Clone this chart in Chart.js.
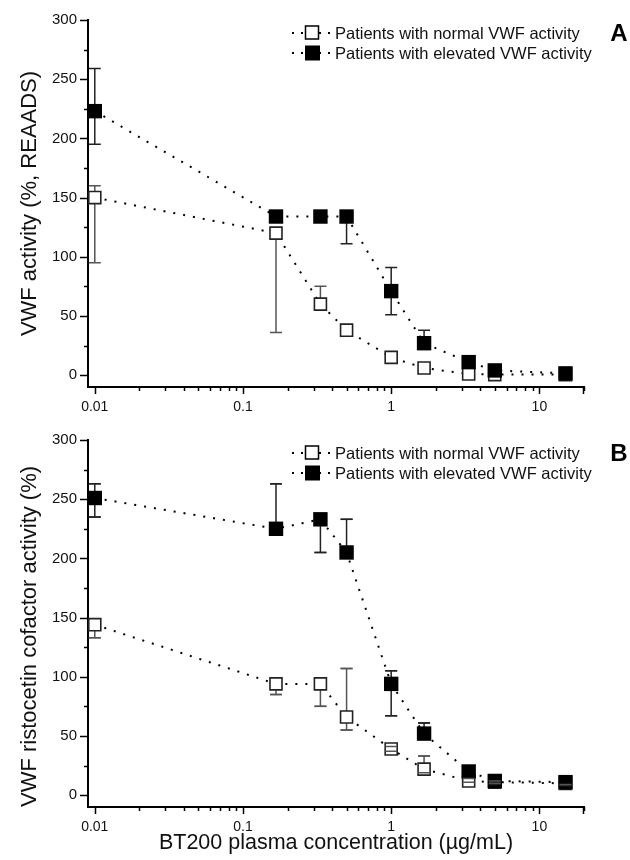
<!DOCTYPE html>
<html>
<head>
<meta charset="utf-8">
<script src="https://cdn.jsdelivr.net/npm/chart.js@4.4.1/dist/chart.umd.min.js"></script>
<style>
  body { margin: 0; background: #fff; }
  canvas { display: block; }
</style>
</head>
<body>
<canvas id="chartA" width="630" height="420"></canvas>
<canvas id="chartB" width="630" height="440"></canvas>
<script>
// BT200 concentration (µg/mL) for every measurement
const concentrations = [0.01, 0.167, 0.333, 0.5, 1, 1.667, 3.333, 5, 15];
const seriesNames = ['Patients with normal VWF activity', 'Patients with elevated VWF activity'];

// Panel A: VWF activity (%, REAADS)
const reaadsNormal = [150, 120, 60, 38, 15, 6, 1, 0.5, 0.5];
const reaadsNormalHi = [160, 120, 75, 40, 17, 8, 2, 1, 1];
const reaadsNormalLo = [95, 36, 55, 36, 13, 5, 0, 0, 0];
const reaadsElevated = [223, 134, 134, 134, 71, 27, 11, 4, 1.5];
const reaadsElevatedHi = [259, 134, 134, 134, 91, 38, 12, 5, 2];
const reaadsElevatedLo = [195, 134, 134, 111, 51, 27, 11, 4, 1.5];

// Panel B: VWF ristocetin cofactor activity (%)
const ristoNormal = [144, 94, 94, 66, 39, 22, 12, 11, 10];
const ristoNormalHi = [144, 94, 94, 107, 41, 33, 14, 12, 10];
const ristoNormalLo = [133, 85, 75, 55, 37, 19, 11, 10, 9];
const ristoElevated = [251, 225, 233, 205, 94, 52, 20, 12, 11];
const ristoElevatedHi = [263, 263, 233, 233, 105, 61, 20, 12, 11];
const ristoElevatedLo = [235, 225, 205, 205, 67, 52, 20, 9, 8];

const xTickLabels = [0.01, 0.1, 1, 10];
const yTickValues = [0, 50, 100, 150, 200, 250, 300];
const yMinorTicks = [25, 75, 125, 175, 225, 275];

const FONT = "'Liberation Sans', Arial, sans-serif";

function toPoints(vals) {
  return concentrations.map((x, i) => ({ x: x, y: vals[i] }));
}

// vertical error bars with caps, drawn under the markers
function drawErrorBars(chart, capsOnly) {
  const ctx = chart.ctx;
  const y = chart.scales.y;
  ctx.save();
  chart.data.datasets.forEach((ds, di) => {
    const meta = chart.getDatasetMeta(di);
    ctx.strokeStyle = ds.errColor;
    ctx.lineWidth = 1.5;
    meta.data.forEach((pt, i) => {
      const top = y.getPixelForValue(ds.errHi[i]);
      const bot = y.getPixelForValue(ds.errLo[i]);
      const x = pt.x;
      ctx.beginPath();
      if (!capsOnly) {
        ctx.moveTo(x, top); ctx.lineTo(x, bot);
      }
      if (Math.abs(top - pt.y) > 0.5 || !capsOnly) {
        ctx.moveTo(x - 6, top); ctx.lineTo(x + 6, top);
      }
      if (Math.abs(bot - pt.y) > 0.5 || !capsOnly) {
        ctx.moveTo(x - 6, bot); ctx.lineTo(x + 6, bot);
      }
      ctx.stroke();
    });
  });
  ctx.restore();
}

const errorBarPlugin = {
  id: 'errorBars',
  beforeDatasetsDraw(chart, args, opts) { drawErrorBars(chart, false); },
  afterDatasetsDraw(chart, args, opts) { if (opts.capsOnTop) drawErrorBars(chart, true); }
};

// outward tick marks: long ones at labelled values, short ones in between
const tickPlugin = {
  id: 'tickMarks',
  afterDraw(chart) {
    const ctx = chart.ctx;
    const xs = chart.scales.x, ys = chart.scales.y;
    const area = chart.chartArea;
    ctx.save();
    ctx.strokeStyle = '#000';
    ctx.lineWidth = 1.5;
    ctx.beginPath();
    yTickValues.forEach(v => {
      const py = Math.round(ys.getPixelForValue(v)) + 0.5;
      ctx.moveTo(area.left - 8, py); ctx.lineTo(area.left, py);
    });
    yMinorTicks.forEach(v => {
      const py = Math.round(ys.getPixelForValue(v)) + 0.5;
      ctx.moveTo(area.left - 4, py); ctx.lineTo(area.left, py);
    });
    xTickLabels.forEach(decade => {
      for (let m = 1; m <= 9; m++) {
        const v = decade * m;
        if (v < xs.min || v > xs.max) continue;
        const px = Math.round(xs.getPixelForValue(v)) + 0.5;
        ctx.moveTo(px, area.bottom);
        ctx.lineTo(px, area.bottom + (m === 1 ? 7 : 4));
      }
    });
    const pEnd = Math.round(xs.getPixelForValue(xs.max)) - 0.5;
    ctx.moveTo(pEnd, area.bottom); ctx.lineTo(pEnd, area.bottom + 7);
    ctx.stroke();
    ctx.restore();
  }
};

// legend inside the plot, top right, plus the panel letter
const panelLegendPlugin = {
  id: 'panelLegend',
  afterDraw(chart, args, opts) {
    const ctx = chart.ctx;
    ctx.save();
    opts.rows.forEach((row, i) => {
      const ly = opts.y + i * 20;
      ctx.strokeStyle = '#000';
      ctx.lineWidth = 2;
      ctx.setLineDash([2, 7]);
      ctx.beginPath();
      ctx.moveTo(292, ly); ctx.lineTo(334, ly);
      ctx.stroke();
      ctx.setLineDash([]);
      ctx.lineWidth = 1.5;
      if (row.filled) {
        ctx.fillStyle = '#000';
        ctx.fillRect(305, ly - 7.5, 15, 15);
      } else {
        ctx.fillStyle = '#fff';
        ctx.fillRect(305.5, ly - 7, 13, 13);
        ctx.strokeRect(305.5, ly - 7, 13, 13);
      }
      ctx.fillStyle = '#111';
      ctx.font = '16.5px ' + FONT;
      ctx.textAlign = 'left';
      ctx.textBaseline = 'middle';
      ctx.fillText(row.text, 335, ly + 1);
    });
    ctx.font = 'bold 24px ' + FONT;
    ctx.textAlign = 'center';
    ctx.fillStyle = '#000';
    ctx.fillText(opts.letter, 619, opts.y + 1);
    ctx.restore();
  }
};

function makeChart(id, normal, normalHi, normalLo, elevated, elevatedHi, elevatedLo, yTitle, yTitleAlign, xTitle, letter, capsOnTop) {
  const xAxisHeight = xTitle ? 53 : 33;
  return new Chart(document.getElementById(id), {
    type: 'line',
    data: {
      datasets: [
        {
          label: seriesNames[1],
          data: toPoints(elevated),
          errHi: elevatedHi, errLo: elevatedLo, errColor: '#222',
          borderColor: '#000', borderWidth: 2, borderDash: [2, 8],
          pointStyle: 'rect', pointRadius: 10.2,
          pointBackgroundColor: '#000', pointBorderColor: '#000', pointBorderWidth: 0,
          order: 0, clip: false
        },
        {
          label: seriesNames[0],
          data: toPoints(normal),
          errHi: normalHi, errLo: normalLo, errColor: '#555',
          borderColor: '#000', borderWidth: 2, borderDash: [2, 8],
          pointStyle: 'rect', pointRadius: 8.5,
          pointBackgroundColor: '#fff', pointBorderColor: '#222', pointBorderWidth: 1.6,
          order: 1, clip: false
        }
      ]
    },
    options: {
      responsive: false,
      animation: false,
      devicePixelRatio: 1,
      layout: { padding: { top: 19, right: 46, left: 0, bottom: 0 } },
      scales: {
        x: {
          type: 'logarithmic',
          min: 0.009, max: 20,
          grid: { display: false, drawTicks: false },
          border: { display: true, color: '#000', width: 2 },
          afterBuildTicks: s => { s.ticks = xTickLabels.map(v => ({ value: v })); },
          afterFit: s => { s.height = xAxisHeight; },
          ticks: {
            autoSkip: false, maxRotation: 0, padding: 12,
            color: '#111', font: { family: FONT, size: 14 },
            callback: v => String(v)
          },
          title: {
            display: !!xTitle, text: xTitle || '', color: '#111',
            font: { family: FONT, size: 21.5 }, padding: { top: 0, bottom: 4 }
          }
        },
        y: {
          min: -10, max: 300,
          grid: { display: false, drawTicks: false },
          border: { display: true, color: '#000', width: 2 },
          afterBuildTicks: s => { s.ticks = yTickValues.map(v => ({ value: v })); },
          afterFit: s => { s.width = 88; },
          ticks: { padding: 11, color: '#111', font: { family: FONT, size: 15 } },
          title: {
            display: true, text: yTitle, color: '#111', align: yTitleAlign,
            font: { family: FONT, size: 22 }, padding: { top: 17, bottom: 0 }
          }
        }
      },
      plugins: {
        legend: { display: false },
        tooltip: { enabled: false },
        errorBars: { capsOnTop: capsOnTop },
        panelLegend: {
          letter: letter, y: 33,
          rows: [{ text: seriesNames[0], filled: false }, { text: seriesNames[1], filled: true }]
        }
      }
    },
    plugins: [errorBarPlugin, tickPlugin, panelLegendPlugin]
  });
}

makeChart('chartA', reaadsNormal, reaadsNormalHi, reaadsNormalLo,
  reaadsElevated, reaadsElevatedHi, reaadsElevatedLo,
  'VWF activity (%, REAADS)', 'center', null, 'A', false);
makeChart('chartB', ristoNormal, ristoNormalHi, ristoNormalLo,
  ristoElevated, ristoElevatedHi, ristoElevatedLo,
  'VWF ristocetin cofactor activity (%)', 'start', 'BT200 plasma concentration (µg/mL)', 'B', true);
</script>
</body>
</html>
